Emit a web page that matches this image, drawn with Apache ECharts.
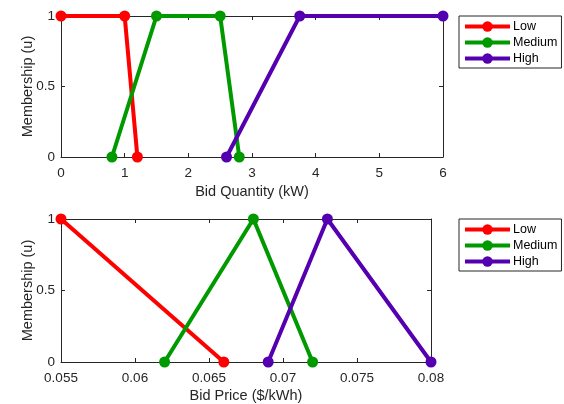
<!DOCTYPE html>
<html>
<head>
<meta charset="utf-8">
<script src="https://cdn.jsdelivr.net/npm/echarts@6/dist/echarts.min.js"></script>
<style>html,body{margin:0;padding:0;background:#fff}#c{width:564px;height:404px}</style>
</head>
<body>
<div id="c"></div>
<script>
// Top plot: Bid Quantity (kW)
const qtyLowX = [0, 1, 1.2];
const qtyLowY = [1, 1, 0];
const qtyMedX = [0.8, 1.5, 2.5, 2.8];
const qtyMedY = [0, 1, 1, 0];
const qtyHighX = [2.6, 3.75, 6];
const qtyHighY = [0, 1, 1];
const qtyTicks = [0, 1, 2, 3, 4, 5, 6];

// Bottom plot: Bid Price ($/kWh)
const priceLowX = [0.055, 0.066];
const priceLowY = [1, 0];
const priceMedX = [0.062, 0.068, 0.072];
const priceMedY = [0, 1, 0];
const priceHighX = [0.069, 0.073, 0.08];
const priceHighY = [0, 1, 0];
const priceTicks = [0.055, 0.06, 0.065, 0.07, 0.075, 0.08];

const memTicks = [0, 0.5, 1];
const names = ['Low', 'Medium', 'High'];
const colors = ['#ff0000', '#009900', '#5500b0'];

const TXT = '#262626';
const FONT = 'Liberation Sans, Arial, Helvetica, sans-serif';

function pairs(xs, ys) { return xs.map((x, i) => [x, ys[i]]); }

const lineS = { show: true, onZero: false, lineStyle: { color: TXT, width: 1 } };
const tickS = { show: true, inside: true, length: 4, lineStyle: { color: TXT } };

function mainX(gi, ticks, name, gap) {
  return {
    type: 'value', gridIndex: gi, position: 'bottom',
    min: ticks[0], max: ticks[ticks.length - 1],
    interval: ticks[1] - ticks[0],
    name: name, nameLocation: 'middle', nameGap: gap, nameMoveOverlap: false,
    nameTextStyle: { color: TXT, fontSize: 14.5, fontFamily: FONT },
    axisLine: lineS, axisTick: tickS,
    axisLabel: { color: TXT, fontSize: 13.5, fontFamily: FONT, margin: 9,
      formatter: v => String(+v.toFixed(4)) },
    splitLine: { show: false }
  };
}
function topX(gi, ticks) {
  return {
    type: 'value', gridIndex: gi, position: 'top',
    min: ticks[0], max: ticks[ticks.length - 1],
    interval: ticks[1] - ticks[0],
    axisLine: lineS, axisTick: tickS,
    axisLabel: { show: false }, splitLine: { show: false }
  };
}
function mainY(gi) {
  return {
    type: 'value', gridIndex: gi, position: 'left',
    min: memTicks[0], max: memTicks[memTicks.length - 1], interval: 0.5,
    name: 'Membership (u)', nameLocation: 'middle', nameGap: 26, nameRotate: 90,
    nameMoveOverlap: false,
    nameTextStyle: { color: TXT, fontSize: 14.5, fontFamily: FONT },
    axisLine: lineS, axisTick: tickS,
    axisLabel: { color: TXT, fontSize: 13.5, fontFamily: FONT, margin: 6,
      formatter: v => String(+v.toFixed(2)) },
    splitLine: { show: false }
  };
}
function rightY(gi) {
  return {
    type: 'value', gridIndex: gi, position: 'right',
    min: 0, max: 1, interval: 0.5,
    axisLine: lineS, axisTick: tickS,
    axisLabel: { show: false }, splitLine: { show: false }
  };
}
function ser(name, color, data, xi, yi) {
  return {
    type: 'line', name: name, data: data, xAxisIndex: xi, yAxisIndex: yi,
    color: color, symbol: 'circle', symbolSize: 11, showSymbol: true,
    lineStyle: { color: color, width: 4 }, itemStyle: { color: color },
    animation: false, z: 3
  };
}
function legend(top) {
  return {
    data: names, orient: 'vertical', left: 459, top: top,
    itemWidth: 45, itemHeight: 13, itemGap: 3,
    padding: [4, 4, 3, 4],
    borderColor: TXT, borderWidth: 1, backgroundColor: '#fff',
    lineStyle: { width: 4 },
    textStyle: { color: '#000', fontSize: 12.5, fontFamily: FONT, padding: [0, 0, 0, -2] },
    selectedMode: false
  };
}

const chart = echarts.init(document.getElementById('c'), null, { renderer: 'canvas' });
chart.setOption({
  animation: false,
  backgroundColor: '#fff',
  grid: [
    { left: 61, top: 16, width: 382, height: 141 },
    { left: 61, top: 219, width: 370, height: 143 }
  ],
  xAxis: [
    mainX(0, qtyTicks, 'Bid Quantity (kW)', 27),
    mainX(1, priceTicks, 'Bid Price ($/kWh)', 26),
    topX(0, qtyTicks),
    topX(1, priceTicks)
  ],
  yAxis: [mainY(0), mainY(1), rightY(0), rightY(1)],
  legend: [legend(16), legend(219)],
  series: [
    ser(names[0], colors[0], pairs(qtyLowX, qtyLowY), 0, 0),
    ser(names[1], colors[1], pairs(qtyMedX, qtyMedY), 0, 0),
    ser(names[2], colors[2], pairs(qtyHighX, qtyHighY), 0, 0),
    ser(names[0], colors[0], pairs(priceLowX, priceLowY), 1, 1),
    ser(names[1], colors[1], pairs(priceMedX, priceMedY), 1, 1),
    ser(names[2], colors[2], pairs(priceHighX, priceHighY), 1, 1)
  ]
});
</script>
</body>
</html>
